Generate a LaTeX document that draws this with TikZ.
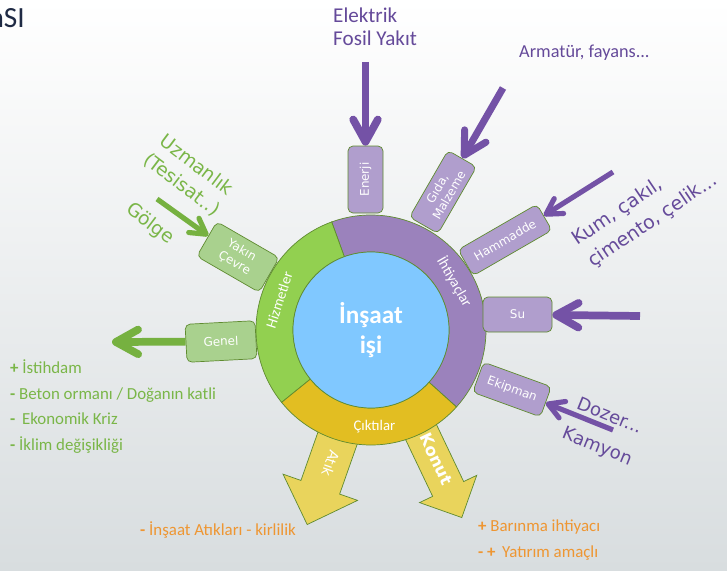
\documentclass[tikz,border=0pt]{standalone}
\usepackage{fontspec}
\setmainfont{Carlito}
\newfontfamily\wide{DejaVu Sans}
\usetikzlibrary{calc, arrows.meta, shapes.arrows, positioning}

\definecolor{bgbottom}{RGB}{216,221,223}
\definecolor{ringpurple}{HTML}{9B82BC}
\definecolor{boxpurple}{HTML}{B09ECD}
\definecolor{ringgreen}{HTML}{92D050}
\definecolor{boxgreen}{HTML}{A9D18E}
\definecolor{ringyellow}{HTML}{E2BE22}
\definecolor{arrowyellow}{HTML}{E9D45C}
\definecolor{coreblue}{HTML}{80C8FF}
\definecolor{edgegreen}{HTML}{5F8B30}
\definecolor{linepurple}{HTML}{7452A6}
\definecolor{linegreen}{HTML}{76B140}
\definecolor{textpurple}{HTML}{654A9A}
\definecolor{textgreen}{HTML}{7AB648}
\definecolor{textorange}{HTML}{EE9632}
\definecolor{titleblue}{HTML}{1F2A44}

\begin{document}
\begin{tikzpicture}[x=0.3mm, y=0.3mm,
  box/.style={draw=edgegreen, line width=0.6pt, rounded corners=1.5mm, text=white, align=center, inner sep=0.5mm, font=\wide\fontsize{10.2pt}{12pt}\selectfont},
  pbox/.style={box, fill=boxpurple},
  gbox/.style={box, fill=boxgreen},
  ringlabel/.style={text=white, font=\fontsize{12.6pt}{15pt}\selectfont},
  parrow/.style={linepurple, line width=6.6pt, -{Straight Barb[round, length=19pt, width=21pt]}},
  thinparrow/.style={linepurple, line width=4.4pt, -{Straight Barb[round, length=13pt, width=15pt]}},
  garrow/.style={linegreen, line width=6.6pt, -{Straight Barb[round, length=19pt, width=21pt]}},
  thingarrow/.style={linegreen, line width=4.4pt, -{Straight Barb[round, length=13pt, width=15pt]}},
  yarrow/.style={single arrow, draw=edgegreen, line width=0.6pt, fill=arrowyellow, text=white, anchor=tip, minimum height=33mm, text height=2.7mm, text depth=0.6mm, inner xsep=1mm},
  wtext/.style={font=\wide\fontsize{16pt}{21pt}\selectfont, align=center, inner sep=0}]

% background
\shade[top color=white, bottom color=bgbottom] (0,0) rectangle (727,-570);
\useasboundingbox (0,0) rectangle (727,-570);

\node[anchor=base east, inner sep=0, text=titleblue, font=\fontsize{25pt}{30pt}\selectfont] (title) at (25,-28) {nSI};

% outputs (under the ring)
\node[yarrow, rotate=-109.4, minimum width=22.5mm, single arrow head extend=5.7mm, inner ysep=4.4mm, font=\wide\fontsize{12pt}{14pt}\selectfont] (atik) at (307,-525) {Atık};
\node[yarrow, rotate=-64.5, minimum width=18mm, single arrow head extend=4.35mm, inner ysep=3.4mm, font=\wide\bfseries\fontsize{14pt}{16pt}\selectfont] (konut) at (462,-518) {Konut};

% ring
\coordinate (c) at (371,-330);
\draw[edgegreen, line width=0.6pt, fill=ringpurple] ($(c)+(-42:115)$) arc[start angle=-42, end angle=110, radius=115] -- ($(c)+(110:78)$) arc[start angle=110, end angle=-42, radius=78] -- cycle;
\draw[edgegreen, line width=0.6pt, fill=ringgreen] ($(c)+(110:115)$) arc[start angle=110, end angle=219, radius=115] -- ($(c)+(219:78)$) arc[start angle=219, end angle=110, radius=78] -- cycle;
\draw[edgegreen, line width=0.6pt, fill=ringyellow] ($(c)+(219:115)$) arc[start angle=219, end angle=318, radius=115] -- ($(c)+(318:78)$) arc[start angle=318, end angle=219, radius=78] -- cycle;
\node[circle, draw=edgegreen, line width=0.6pt, fill=coreblue, minimum size=46.8mm, text=white, align=center, font=\bfseries\fontsize{21.5pt}{25pt}\selectfont] (core) at (c) {İnşaat\\işi};

\node[ringlabel, rotate=-60] (ihtiyac) at ($(c)+(30:96.5)$) {İhtiyaçlar};
\node[ringlabel, rotate=72] (hizmet) at ($(c)+(162:96.5)$) {Hizmetler};
\node[ringlabel] (cikti) at ($(c)+(272:96.5)$) {Çıktılar};

% boxes
\node[pbox, rotate=90, minimum width=20.1mm, minimum height=10.5mm] (enerji) at (365.5,-179.5) {Enerji};
\node[pbox, rotate=60, minimum width=23.1mm, minimum height=9.9mm, font=\wide\fontsize{10.2pt}{11.5pt}\selectfont] (gida) at (443,-192) {Gıda,\\Malzeme};
\node[pbox, rotate=30, minimum width=27.3mm, minimum height=9mm] (hammadde) at (505,-240) {Hammadde};
\node[pbox, minimum width=20.7mm, minimum height=10.5mm] (su) at (517.5,-314.5) {Su};
\node[pbox, rotate=-20, minimum width=21.6mm, minimum height=9.6mm] (ekipman) at (512,-389.5) {Ekipman};
\node[gbox, rotate=-30, minimum width=21.6mm, minimum height=12mm, font=\wide\fontsize{10.2pt}{12.5pt}\selectfont] (yakin) at (238,-257) {Yakın\\Çevre};
\node[gbox, rotate=3, minimum width=21mm, minimum height=11.4mm] (genel) at (221,-341.5) {Genel};

% arrows
\coordinate (enerjiTail) at (365.5,-62);
\coordinate (gidaTail) at (503,-88);
\coordinate (hamTail) at (613,-172);
\coordinate (suTail) at (640,-316);
\coordinate (ekipTail) at (613,-430);
\coordinate (yakinTail) at (157,-199);
\coordinate (genelTip) at (112,-342);
\draw[parrow] (enerjiTail) -- (enerji);
\draw[parrow, line width=6pt] (gidaTail) -- (gida);
\draw[thinparrow] (hamTail) -- (hammadde);
\draw[parrow] (suTail) -- (su);
\draw[thinparrow] (ekipTail) -- (ekipman);
\draw[thingarrow] (yakinTail) -- (yakin);
\draw[garrow] (genel) -- (genelTip);

% texts
\node[anchor=west, inner sep=0, align=left, text=textpurple, font=\fontsize{18pt}{19.6pt}\selectfont] (elektrik) at (333,-27) {Elektrik\\Fosil Yakıt};
\node[anchor=base west, inner sep=0, text=textpurple, font=\fontsize{15.6pt}{18pt}\selectfont] (armatur) at (519,-58) {Armatür, fayans...};
\node[wtext, align=left, rotate=34, text=textpurple, font=\wide\fontsize{16.2pt}{23pt}\selectfont] (kum) at (645,-210) {Kum, çakıl,\\çimento, çelik...};
\node[wtext, rotate=-22, text=textpurple, font=\wide\fontsize{15.4pt}{28pt}\selectfont] (dozer) at (603,-432) {Dozer...\\Kamyon};
\node[wtext, rotate=-37, text=textgreen] (uzman) at (189,-175) {Uzmanlık\\(Tesisat..)};
\node[wtext, rotate=-37, text=textgreen] (golge) at (150,-224) {Gölge};

\node[anchor=north west, inner sep=0, align=left, text=textgreen, font=\fontsize{14.4pt}{21.8pt}\selectfont] (etkiler) at (10,-359.5) {\textbf{+} İstihdam\\\textbf{-} Beton ormanı / Doğanın katli\\\textbf{-}\, Ekonomik Kriz\\\textbf{-} İklim değişikliği};
\node[anchor=base west, inner sep=0, text=textorange, font=\fontsize{14.4pt}{22pt}\selectfont] (atiklar) at (140,-535) {\textbf{-} İnşaat Atıkları - kirlilik};
\node[anchor=north west, inner sep=0, align=left, text=textorange, font=\fontsize{14.4pt}{22.2pt}\selectfont] (barinma) at (478,-519.5) {\textbf{+} Barınma ihtiyacı\\\textbf{-} \textbf{+}\, Yatırım amaçlı};
\end{tikzpicture}
\end{document}
